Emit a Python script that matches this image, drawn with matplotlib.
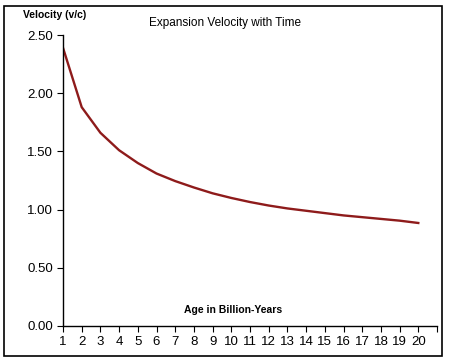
import numpy as np
import matplotlib.pyplot as plt
from matplotlib.patches import Rectangle

# Age in billion years vs expansion velocity (v/c)
age = [1, 2, 3, 4, 5, 6, 7, 8, 9, 10, 11, 12, 13, 14, 15, 16, 17, 18, 19, 20]
velocity = [2.39, 1.88, 1.66, 1.51, 1.40, 1.31, 1.245, 1.19, 1.14, 1.10,
            1.065, 1.035, 1.01, 0.99, 0.97, 0.95, 0.935, 0.92, 0.905, 0.885]
yticks = [0.0, 0.5, 1.0, 1.5, 2.0, 2.5]

plt.rcParams['font.family'] = ['Liberation Sans', 'DejaVu Sans']

W, H = 452, 364
fig = plt.figure(figsize=(W / 100, H / 100), dpi=100)
ax = fig.add_axes([63 / W, (H - 326) / H, (437 - 63) / W, (326 - 35) / H])

ax.plot(age, velocity, color='#8e1b1b', lw=1.7, solid_joinstyle='round')

ax.set_xlim(1, 21)
ax.set_ylim(0, 2.5)
ax.set_yticks(yticks)
ax.set_yticklabels(['%.2f' % v for v in yticks], fontsize=9.5)
ax.set_xticks(range(1, 22))
ax.set_xticklabels([str(a) for a in age] + [''], fontsize=9.5)
ax.tick_params(direction='out', length=4, width=0.8, pad=3)
for s in ['top', 'right']:
    ax.spines[s].set_visible(False)
for s in ['left', 'bottom']:
    ax.spines[s].set_linewidth(1.0)

fig.text(225 / W, 1 - 23 / H, 'Expansion Velocity with Time', ha='center', va='center', fontsize=8.5)
fig.text(23 / W, 1 - 15 / H, 'Velocity (v/c)', ha='left', va='center', fontsize=7.5, fontweight='bold')
fig.text(233 / W, 1 - 310 / H, 'Age in Billion-Years', ha='center', va='center', fontsize=7.5, fontweight='bold')

fig.patches.append(Rectangle((4 / W, 1 - 356 / H), (442 - 4) / W, (356 - 6) / H,
                             transform=fig.transFigure, fill=False, lw=1.2, ec='black'))

fig.savefig('out.png', dpi=100)
